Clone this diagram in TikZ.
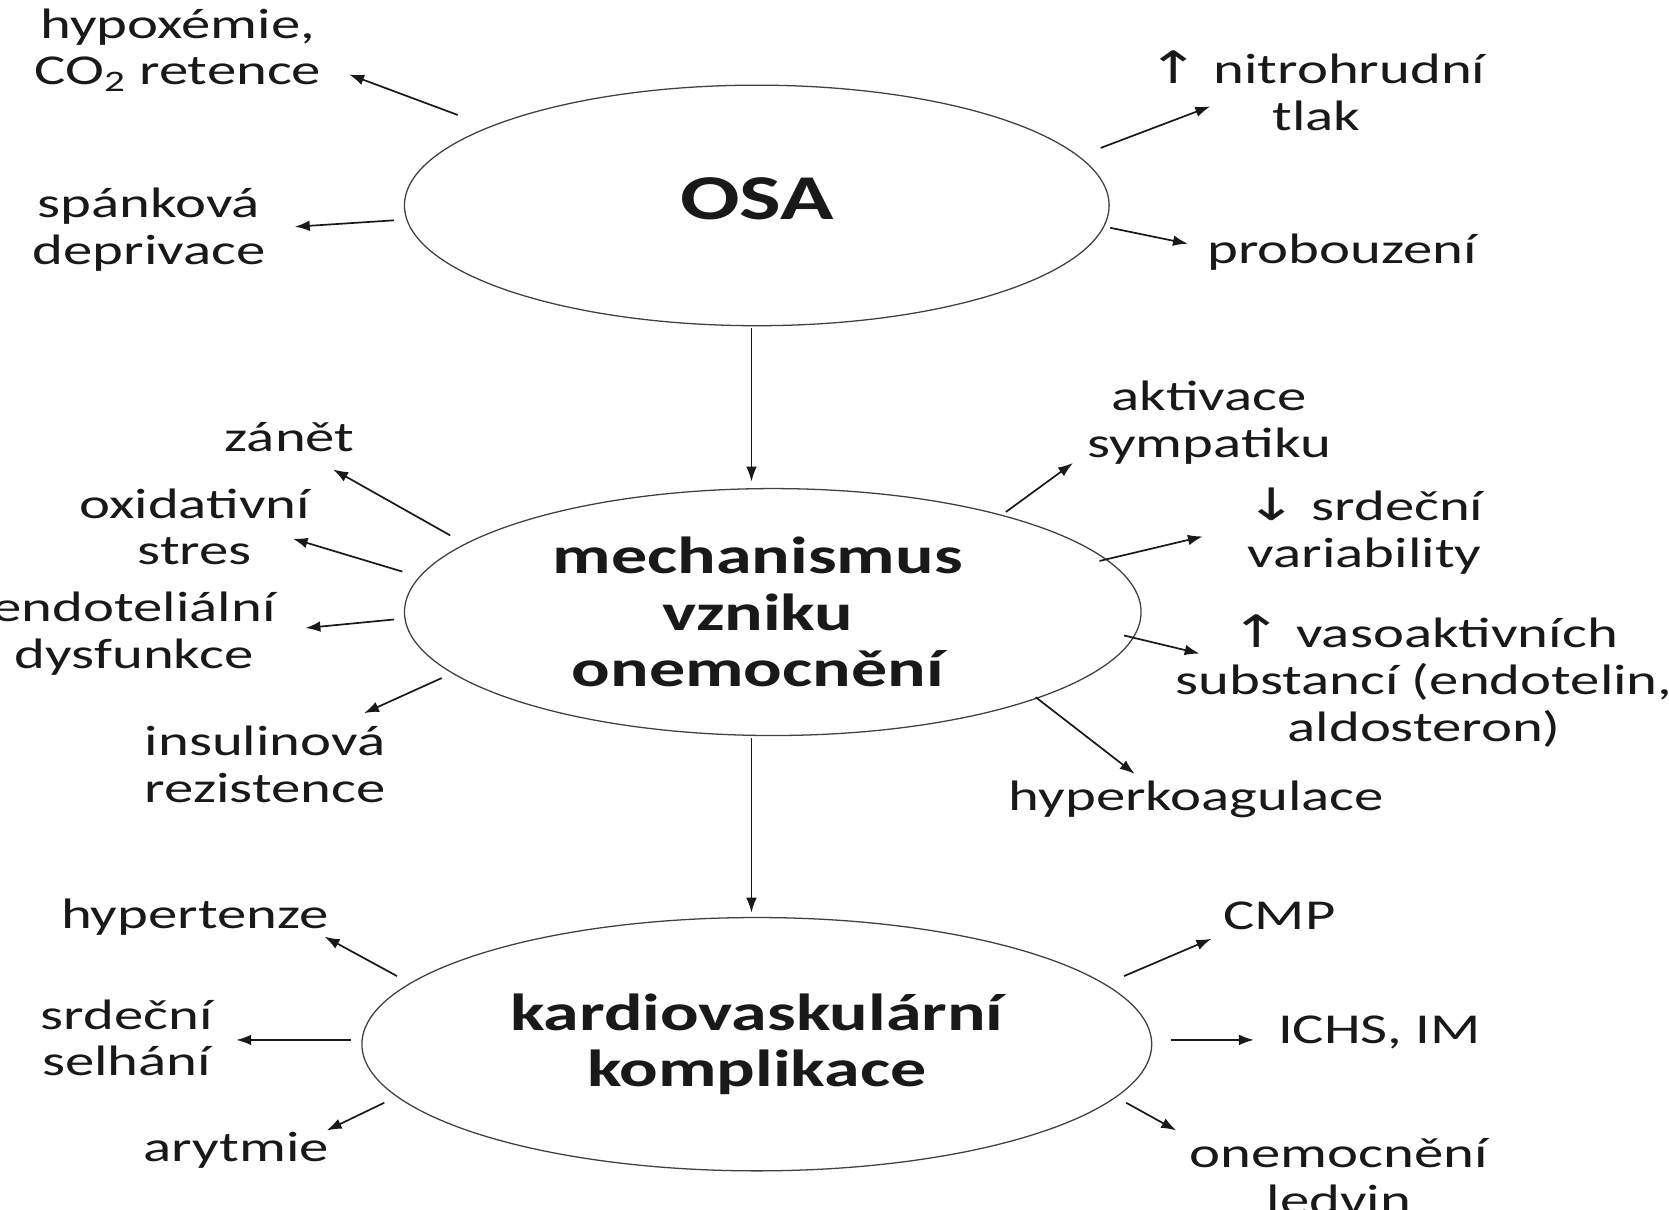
\documentclass[tikz,border=0pt]{standalone}
\usepackage{fontspec}
\setmainfont[FakeStretch=1.38]{Carlito}
\newfontfamily\arrfont[FakeStretch=1.4]{DejaVu Sans}
\usetikzlibrary{arrows.meta,shapes.geometric}
\tikzset{
  lbl/.style={font=\fontsize{20}{22}\selectfont, align=center, inner sep=0pt, text=black!90},
  big/.style={ellipse, draw=black!75, line width=0.6pt, inner sep=0pt},
  bigtext/.style={align=center, inner sep=0pt, text=black!90,
              font=\bfseries\fontsize{24.5}{26.5}\selectfont},
  conn/.style={-{Latex[length=7pt,width=5pt]}, line width=0.8pt, draw=black!90},
}
\newcommand{\up}{{\arrfont\fontsize{21}{22}\selectfont ↑}}
\newcommand{\dn}{{\arrfont\fontsize{21}{22}\selectfont ↓}}
\begin{document}
\begin{tikzpicture}[x=0.5pt,y=-0.5pt]
\useasboundingbox (0,0) rectangle (1568,1136);
\clip (0,0) rectangle (1568,1136);
\fill[white] (0,0) rectangle (1568,1136);

% ellipses
\node[big, minimum width=331pt, minimum height=113pt,
  label={[bigtext, font=\bfseries\fontsize{30}{32}\selectfont, yshift=3pt]center:OSA}] (osa) at (711,193) {};
\node[big, minimum width=346pt, minimum height=116pt,
  label={[bigtext, xshift=-7pt]center:mechanismus\\vzniku\\onemocnění}] (mech) at (726,575) {};
\node[big, minimum width=371pt, minimum height=119pt,
  label={[bigtext]center:kardiovaskulární\\komplikace}] (kard) at (711,981) {};

% OSA labels
\node[lbl] (hyp) at (167,47) {hypoxémie,\\CO\textsubscript{2} retence};
\node[lbl] (spa) at (140,216) {spánková\\deprivace};
\node[lbl] (nit) at (1237,85) {\up\ nitrohrudní\\tlak};
\node[lbl] (pro) at (1261,237) {probouzení};

% mechanism labels
\node[lbl] (zan) at (272,411) {zánět};
\node[lbl] (oxi) at (183,495) {oxidativní\\stres};
\node[lbl] (end) at (126,595) {endoteliální\\dysfunkce};
\node[lbl] (ins) at (249,718) {insulinová\\rezistence};
\node[lbl] (akt) at (1136,397) {aktivace\\sympatiku};
\node[lbl] (srd) at (1282,499) {\dn\ srdeční\\variability};
\node[lbl] (vas) at (1338,640) {\up\ vasoaktivních\\substancí (endotelin,\\aldosteron)};
\node[lbl] (hyk) at (1124,751) {hyperkoagulace};

% complication labels
\node[lbl] (hyt) at (183,862) {hypertenze};
\node[lbl] (sel) at (119,975) {srdeční\\selhání};
\node[lbl] (ary) at (222,1081) {arytmie};
\node[lbl] (cmp) at (1202,860) {CMP};
\node[lbl] (ich) at (1296,970) {ICHS, IM};
\node[lbl] (led) at (1258,1105) {onemocnění\\ledvin};

% connector end points
\coordinate (a1s) at (430,108);  \coordinate (a1e) at (328,70);
\coordinate (a2s) at (370,207);  \coordinate (a2e) at (277,213);
\coordinate (a3s) at (1034,139); \coordinate (a3e) at (1137,100);
\coordinate (a4s) at (1043,214); \coordinate (a4e) at (1116,229);

\coordinate (b1s) at (423,503);  \coordinate (b1e) at (313,441);
\coordinate (b2s) at (378,537);  \coordinate (b2e) at (275,506);
\coordinate (b3s) at (370,582);  \coordinate (b3e) at (287,590);
\coordinate (b4s) at (415,637);  \coordinate (b4e) at (342,670);
\coordinate (b5s) at (945,481);  \coordinate (b5e) at (1008,435);
\coordinate (b6s) at (1033,527); \coordinate (b6e) at (1130,504);
\coordinate (b7s) at (1056,597); \coordinate (b7e) at (1127,614);
\coordinate (b8s) at (973,655);  \coordinate (b8e) at (1066,727);

\coordinate (c1s) at (373,917);  \coordinate (c1e) at (305,880);
\coordinate (c2s) at (330,977);  \coordinate (c2e) at (222,977);
\coordinate (c3s) at (361,1036); \coordinate (c3e) at (307,1062);
\coordinate (c4s) at (1056,917); \coordinate (c4e) at (1138,882);
\coordinate (c5s) at (1100,977); \coordinate (c5e) at (1178,977);
\coordinate (c6s) at (1058,1036);\coordinate (c6e) at (1105,1062);

% main flow
\draw[conn] (osa.south -| 706,0) ++(0,2) -- ([yshift=3pt]mech.north -| 706,0);
\draw[conn] (mech.south -| 706,0) ++(0,2) -- ([yshift=2pt]kard.north -| 706,0);

% radial connectors
\foreach \n in {a1,a2,a3,a4,b1,b2,b3,b4,b5,b6,b7,b8,c1,c2,c3,c4,c5,c6}
  \draw[conn] (\n s) -- (\n e);
\end{tikzpicture}
\end{document}
